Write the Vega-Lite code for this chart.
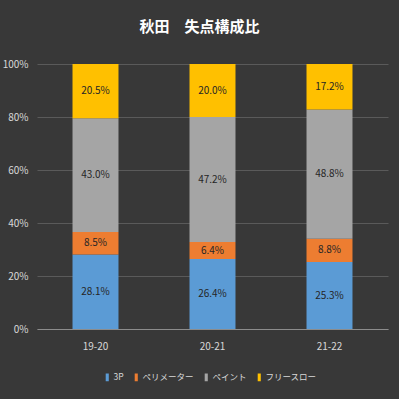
{
  "$schema": "https://vega.github.io/schema/vega-lite/v6.json",
  "width": 351,
  "height": 265,
  "autosize": {"type": "none"},
  "padding": {"left": 37, "top": 64, "right": 11, "bottom": 70},
  "background": "#383838",
  "config": {
    "view": {"stroke": null},
    "font": "Noto Sans CJK JP"
  },
  "title": {
    "text": "秋田　失点構成比",
    "color": "#ffffff",
    "fontSize": 15,
    "fontWeight": "bold",
    "font": "Noto Sans CJK JP",
    "anchor": "middle",
    "dx": -13,
    "offset": 24
  },
  "data": {
    "values": [
      {"season": "19-20", "type": "3P", "o": 1, "v": 28.1},
      {"season": "19-20", "type": "ペリメーター", "o": 2, "v": 8.5},
      {"season": "19-20", "type": "ペイント", "o": 3, "v": 43.0},
      {"season": "19-20", "type": "フリースロー", "o": 4, "v": 20.5},
      {"season": "20-21", "type": "3P", "o": 1, "v": 26.4},
      {"season": "20-21", "type": "ペリメーター", "o": 2, "v": 6.4},
      {"season": "20-21", "type": "ペイント", "o": 3, "v": 47.2},
      {"season": "20-21", "type": "フリースロー", "o": 4, "v": 20.0},
      {"season": "21-22", "type": "3P", "o": 1, "v": 25.3},
      {"season": "21-22", "type": "ペリメーター", "o": 2, "v": 8.8},
      {"season": "21-22", "type": "ペイント", "o": 3, "v": 48.8},
      {"season": "21-22", "type": "フリースロー", "o": 4, "v": 17.2}
    ]
  },
  "transform": [
    {"stack": "v", "groupby": ["season"], "sort": [{"field": "o", "order": "ascending"}], "offset": "normalize", "as": ["y0", "y1"]},
    {"calculate": "(datum.y0 + datum.y1) / 2", "as": "ym"},
    {"calculate": "format(datum.v, '.1f') + '%'", "as": "label"}
  ],
  "encoding": {
    "x": {
      "field": "season",
      "type": "nominal",
      "scale": {"paddingInner": 0.607, "paddingOuter": 0.3035},
      "axis": {
        "title": null,
        "labelAngle": 0,
        "labelColor": "#d9d9d9",
        "labelFontSize": 10,
        "labelPadding": 12,
        "ticks": false,
        "domainColor": "#8c8c8c",
        "domainWidth": 1
      }
    }
  },
  "layer": [
    {
      "mark": {"type": "bar"},
      "encoding": {
        "y": {
          "field": "y0",
          "type": "quantitative",
          "scale": {"domain": [0, 1]},
          "axis": {
            "title": null,
            "format": "%",
            "values": [0, 0.2, 0.4, 0.6, 0.8, 1],
            "labelColor": "#d9d9d9",
            "labelFontSize": 10,
            "labelPadding": 9,
            "ticks": false,
            "domain": false,
            "gridColor": "#5a5a5a",
            "gridWidth": 1
          }
        },
        "y2": {"field": "y1"},
        "color": {
          "field": "type",
          "type": "nominal",
          "scale": {
            "domain": ["3P", "ペリメーター", "ペイント", "フリースロー"],
            "range": ["#5B9BD5", "#ED7D31", "#A5A5A5", "#FFC000"]
          },
          "legend": {
            "title": null,
            "orient": "none",
            "direction": "horizontal",
            "legendX": 66,
            "legendY": 309,
            "symbolType": "M-0.4,-1h0.8v2h-0.8z",
            "symbolSize": 60,
            "symbolStrokeWidth": 0,
            "labelColor": "#d9d9d9",
            "labelFontSize": 8.5,
            "labelOffset": 2,
            "columnPadding": 8
          }
        }
      }
    },
    {
      "mark": {"type": "text", "fontSize": 10, "color": "#262626"},
      "encoding": {
        "y": {"field": "ym", "type": "quantitative"},
        "text": {"field": "label"}
      }
    }
  ]
}
